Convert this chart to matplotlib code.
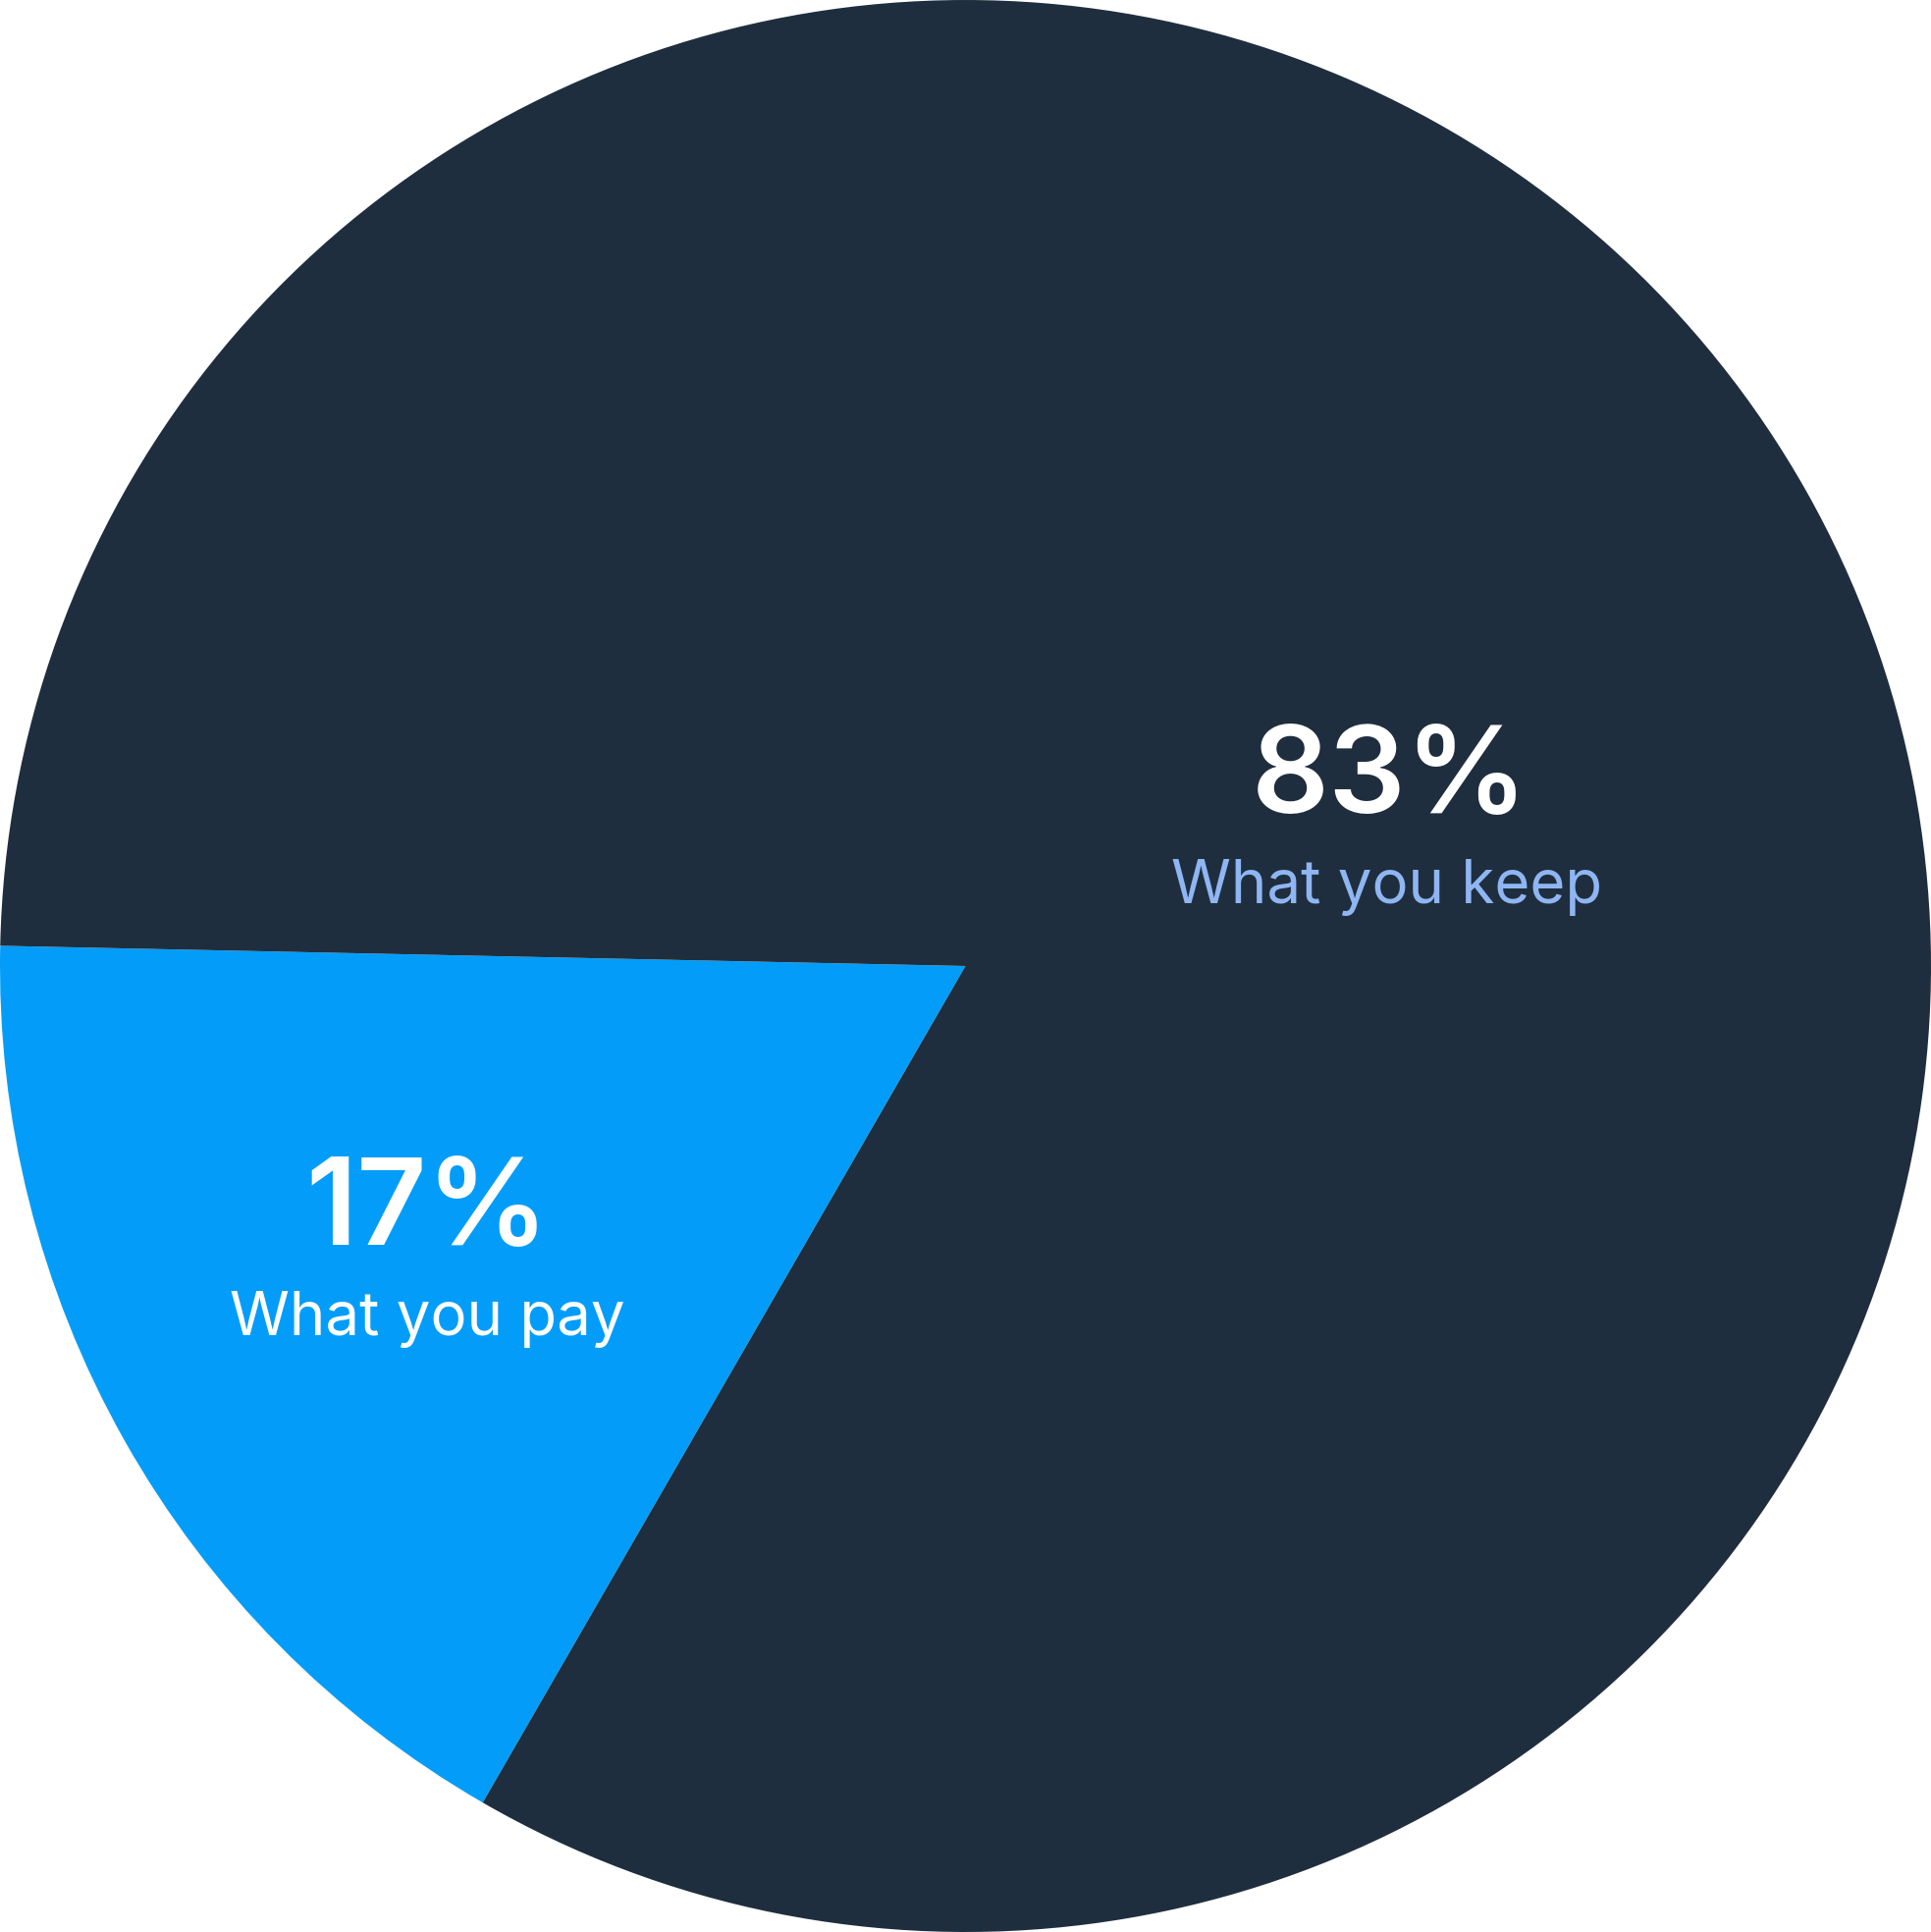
import matplotlib
matplotlib.use("Agg")
import matplotlib.pyplot as plt

# data
labels = ["What you pay", "What you keep"]
shares = [17, 83]
colors = ["#039DF9", "#1F2E3E"]
label_colors = ["#FFFFFF", "#8FB6F2"]
# text anchor positions in pie data coords (radius 1)
pct_pos = [(-0.558, -0.289), (0.439, 0.159)]
lab_pos = [(-0.557, -0.382), (0.436, 0.065)]

fig = plt.figure(figsize=(19.67, 19.68), dpi=100)
ax = fig.add_axes([0, 0, 1, 1])

start = 240 - 360 * shares[0] / 100.0
ax.pie(shares, colors=colors, startangle=start, counterclock=True,
       radius=1.0, wedgeprops=dict(linewidth=0))

for i, name in enumerate(labels):
    x, y = pct_pos[i]
    ax.text(x, y, f"{shares[i]}%", ha="center", va="baseline",
            fontsize=89, fontweight="semibold", color="white", family="Inter")
    x, y = lab_pos[i]
    ax.text(x, y, name, ha="center", va="baseline",
            fontsize=44.5, fontweight="normal", color=label_colors[i], family="Inter")

ax.set_xlim(-1.0, 1.0)
ax.set_ylim(-1.0, 1.0)
ax.set_aspect("auto")
ax.axis("off")

fig.savefig("out.png", dpi=100, facecolor="white")
